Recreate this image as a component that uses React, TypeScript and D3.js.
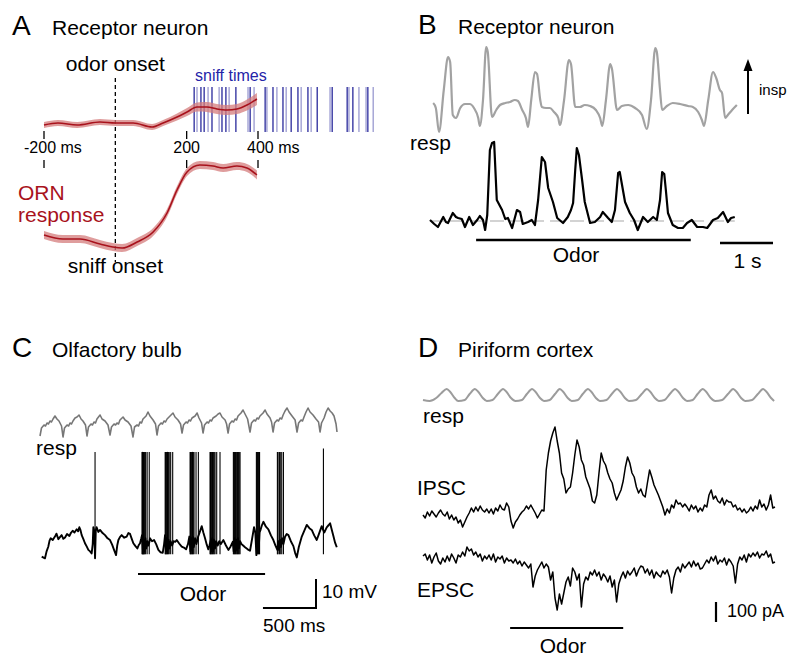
import * as d3 from "d3";

// ---------- panel A : ORN imaging (a.u.), time in ms ----------
const odorT = [-200, -161, -107, -43, 0, 50, 103, 134, 173, 201, 229, 257, 285, 313, 341, 369, 397];
const odorV = [0, 2, 0, 3, 2, 2, -2, 2, 8, 13, 18, 18, 16, 15, 16, 20, 26];
const odorSem = [3, 3, 3, 3, 3, 3, 3, 3, 3.5, 4, 4.5, 5, 5, 5, 5, 5.5, 6];
const sniffT = [-200, -147, -99, -43, -7, 19, 61, 106, 145, 173, 201, 237, 274, 302, 341, 369, 397];
const sniffV = [13, 9, 9, 4, 1, 0, 6, 16, 35, 58, 76, 83, 82, 80, 82, 80, 73];
const sniffSem = [4, 4, 4, 4, 4, 4, 4, 4, 4, 4, 4, 4, 4, 4, 4, 4, 4.5];
const sniffTimes = [221, 229, 240, 249, 260, 271, 291, 299, 310, 319, 338, 372, 378, 389, 420, 425, 442, 453, 470, 479, 493, 512, 521, 540, 549, 566, 602, 608, 650, 655, 666, 683, 703, 708, 723];
const sniffDark = [1, 0, 1, 1, 0, 1, 0, 1, 1, 0, 1, 0, 1, 0, 1, 0, 1, 0, 1, 0, 1, 1, 0, 1, 0, 1, 0, 1, 1, 0, 1, 0, 0, 1, 0];
const aTicks = [-200, 200, 400];

// ---------- panel B : resp + ORN response, time in s ----------
const bResp: [number, number][] = [
  [0.06, 2], [0.11, -3], [0.17, -27], [0.26, 15], [0.34, 48], [0.38, 43], [0.43, -10], [0.49, -13], [0.57, -3], [0.66, 1],
  [0.75, 1], [0.83, -3], [0.91, -13], [0.94, -21], [1.0, 5], [1.06, 58], [1.09, 53], [1.17, -12], [1.25, -5], [1.32, 0],
  [1.42, 2], [1.51, 3], [1.6, 5], [1.66, 4], [1.74, -5], [1.81, -13], [1.85, -22], [1.91, 5], [1.98, 33], [2.02, 31],
  [2.08, 5], [2.11, -2], [2.19, -3], [2.26, -3], [2.34, -7], [2.42, -13], [2.45, -20], [2.53, 5], [2.62, 45], [2.66, 41],
  [2.74, -2], [2.83, -2], [2.92, 0], [3.02, -1], [3.13, -5], [3.21, -13], [3.25, -21], [3.32, 5], [3.4, 41], [3.43, 37],
  [3.53, -5], [3.62, -1], [3.74, 0], [3.87, -3], [4.0, -10], [4.09, -24], [4.17, 5], [4.25, 57], [4.28, 53], [4.34, 15],
  [4.38, -5], [4.47, -1], [4.58, 2], [4.72, 1], [4.87, -1], [4.96, -2], [5.06, -7], [5.13, -15], [5.17, -21], [5.25, 5],
  [5.34, 33], [5.4, 27], [5.47, 15], [5.51, 12], [5.57, -13], [5.62, -10], [5.7, -5], [5.79, 0],
];
const bOrn: [number, number][] = [
  [0, 1], [0.08, -3], [0.15, -6], [0.25, 4], [0.3, -1], [0.34, -2], [0.43, 8], [0.49, 4], [0.53, 3], [0.6, 2],
  [0.66, -6], [0.74, 4], [0.81, -4], [0.89, 1], [0.94, 5], [1.0, 1], [1.04, -9], [1.08, 6], [1.13, 71], [1.17, 78],
  [1.21, 79], [1.26, 21], [1.36, 11], [1.42, 2], [1.47, 3], [1.55, -7], [1.64, 11], [1.7, 9], [1.75, -3], [1.85, -1],
  [1.92, 1], [1.98, -4], [2.04, 21], [2.11, 64], [2.17, 59], [2.23, 33], [2.32, 19], [2.4, 3], [2.51, -2], [2.6, 4],
  [2.66, 11], [2.7, 18], [2.74, 51], [2.77, 73], [2.81, 66], [2.87, 41], [2.92, 19], [3.02, -2], [3.11, -1], [3.21, 4],
  [3.26, 9], [3.36, 3], [3.43, -1], [3.49, 11], [3.55, 48], [3.58, 49], [3.68, 19], [3.77, 8], [3.85, 1], [3.92, -9],
  [4.02, 4], [4.11, -1], [4.21, 4], [4.28, 1], [4.34, 21], [4.38, 49], [4.42, 47], [4.45, 31], [4.49, 8], [4.58, -4],
  [4.68, -7], [4.77, -7], [4.85, -2], [4.94, 1], [5.04, -6], [5.15, -6], [5.23, -7], [5.34, 1], [5.43, 3], [5.53, 9],
  [5.62, -1], [5.68, 3], [5.75, 4],
];
const bOdor = [0.87, 4.92];

// ---------- panel C : mitral cell Vm (mV re rest), time in ms ----------
const cResp: [number, number][] = [
  [0, 4], [14, 12], [38, 15], [52, 14], [66, 17], [80, 16], [94, 19], [108, 18], [123, 21], [141, 24], [160, 21], [179, 19], [203, 14], [217, 3],
  [231, 12], [255, 15], [270, 14], [283, 17], [297, 16], [311, 19], [330, 22], [349, 23], [368, 25], [387, 21], [405, 19], [429, 15], [443, 4],
  [457, 13], [481, 16], [495, 15], [509, 18], [523, 17], [537, 21], [566, 25], [585, 21], [613, 19], [641, 15], [660, 5],
  [674, 13], [698, 16], [712, 15], [726, 17], [740, 16], [754, 20], [783, 23], [802, 20], [830, 18], [858, 14], [877, 3],
  [891, 13], [915, 15], [929, 14], [943, 18], [957, 17], [971, 21], [1000, 24], [1018, 28], [1037, 24], [1066, 20], [1089, 16], [1103, 5],
  [1117, 14], [1141, 17], [1155, 16], [1169, 19], [1183, 18], [1198, 21], [1226, 24], [1254, 27], [1273, 23], [1301, 20], [1325, 16], [1339, 7],
  [1353, 15], [1377, 18], [1391, 17], [1405, 20], [1419, 19], [1433, 22], [1462, 24], [1481, 27], [1499, 22], [1523, 17], [1537, 7],
  [1551, 15], [1575, 18], [1589, 17], [1603, 20], [1617, 19], [1631, 22], [1660, 24], [1679, 26], [1697, 27], [1716, 23], [1745, 20], [1759, 16], [1773, 7],
  [1787, 16], [1810, 19], [1825, 18], [1839, 21], [1853, 20], [1867, 24], [1895, 27], [1914, 30], [1933, 26], [1957, 21], [1980, 8],
  [1994, 17], [2018, 20], [2032, 19], [2046, 22], [2060, 21], [2074, 24], [2103, 27], [2122, 30], [2140, 26], [2169, 22], [2183, 18], [2197, 8],
  [2211, 17], [2235, 20], [2249, 19], [2263, 22], [2278, 21], [2292, 25], [2310, 29], [2329, 32], [2348, 28], [2376, 24], [2405, 20], [2423, 8],
  [2438, 17], [2461, 20], [2475, 19], [2489, 23], [2508, 28], [2527, 32], [2546, 28], [2574, 25], [2602, 21], [2626, 18], [2640, 8],
  [2654, 17], [2678, 22], [2697, 28], [2716, 32], [2735, 29], [2754, 27], [2772, 24], [2791, 16], [2800, 8],
];
const cVm: [number, number][] = [
  [16, -3.3], [47, -3.9], [62, -1.5], [78, 0.1], [90, 2.2], [101, 3.0], [120, 2.4], [141, 3.6], [155, 4.6], [173, 2.7],
  [190, 3.5], [204, 4.1], [220, 2.8], [236, 3.3], [255, 4.5], [277, 3.8], [292, 4.9], [308, 5.6], [325, 5.0], [346, 6.1],
  [360, 5.4], [371, 6.8], [382, 5.8], [393, 4.1], [410, 2.6], [424, 1.3], [440, 0.2], [456, -1.0], [472, -1.5], [487, -2.2],
  [497, 1.0], [503, 6.8], [512, 5.5], [519, -3.9], [526, 5.8], [534, 6.8], [550, 5.2], [566, 5.9], [590, 4.8], [613, 4.1],
  [637, 3.0], [660, 2.4], [680, 0.8], [698, -1.0], [717, -2.8], [728, 0.5], [739, 2.4], [755, 3.5], [770, 4.1], [794, 3.2],
  [817, 3.6], [833, 4.8], [849, 4.5], [865, 2.8], [880, 1.3], [900, 0.3], [918, -0.5], [930, 0.6], [943, 1.3], [955, 3.0],
  [962, 4.1], [970, -1.0], [978, 2.5], [986, -1.5], [994, 3.0], [1002, -0.5], [1012, 2.0], [1020, 0.5], [1030, 1.5], [1037, 3.0],
  [1056, 2.0], [1075, 2.4], [1095, 1.0], [1116, -1.0], [1135, -1.8], [1157, -2.0], [1170, 1.0], [1179, 4.1], [1188, -1.5], [1196, 3.0],
  [1204, -1.0], [1212, 2.5], [1222, -0.5], [1232, 2.0], [1245, 0.5], [1260, 2.0], [1275, 1.8], [1289, 2.4], [1312, 1.2], [1336, 0.1],
  [1356, -0.2], [1377, -0.8], [1395, 1.0], [1408, 3.6], [1418, -1.5], [1426, 3.0], [1434, -1.0], [1442, 3.5], [1450, 0.0], [1462, 3.0],
  [1475, 1.0], [1490, 3.5], [1505, 5.0], [1525, 7.2], [1540, 5.0], [1556, 3.0], [1572, 0.8], [1587, -0.8], [1598, 0.5], [1610, 2.4],
  [1616, -1.5], [1624, 3.0], [1632, -1.5], [1640, 2.5], [1650, -0.5], [1660, 2.0], [1675, 0.5], [1690, 2.0], [1705, 1.0], [1729, 2.4],
  [1752, 0.6], [1776, -1.0], [1797, 0.2], [1817, 1.8], [1826, -1.5], [1834, 3.0], [1842, -1.5], [1850, 2.5], [1858, -1.0], [1866, 3.0],
  [1876, -0.5], [1886, 2.0], [1900, 1.0], [1915, 0.5], [1933, -0.1], [1958, -0.8], [1980, -1.3], [1998, 2.5], [2018, 6.8], [2030, 5.0],
  [2040, -2.8], [2050, 4.0], [2060, -2.0], [2070, 5.0], [2080, 6.0], [2092, 7.5], [2106, 8.7], [2130, 7.0], [2153, 6.1], [2177, 4.0],
  [2200, 2.4], [2220, 0.5], [2238, -1.0], [2246, 2.0], [2254, -1.0], [2262, 2.5], [2272, 0.0], [2282, 3.0], [2295, 1.0], [2310, 3.5],
  [2326, 4.5], [2342, 4.1], [2365, 2.0], [2389, 0.3], [2405, -2.0], [2421, -3.6], [2440, 0.0], [2468, 3.6], [2490, 5.5], [2515, 7.6],
  [2540, 6.5], [2562, 5.9], [2585, 4.0], [2609, 2.4], [2630, 4.5], [2656, 7.2], [2668, 6.0], [2680, 5.0], [2703, 6.8], [2720, 7.5],
  [2735, 8.2], [2750, 6.0], [2766, 3.8], [2782, 1.5], [2798, -0.1],
];
const cSpikes = [
  519,
  962, 966, 970, 974, 978, 982, 988, 996, 1010, 1030,
  1180, 1185, 1190, 1196, 1202, 1210, 1218, 1232, 1251,
  1415, 1420, 1426, 1432, 1438, 1445, 1452, 1471, 1493,
  1603, 1608, 1614, 1620, 1627, 1634, 1642, 1650, 1666, 1697,
  1823, 1829, 1835, 1842, 1849, 1856, 1863, 1870, 1878, 1886,
  2040, 2046, 2052, 2058, 2064, 2070,
  2238, 2244, 2257, 2265, 2279, 2295,
  2672,
];
const cOdor = [924, 2122];

// ---------- panel D : piriform currents (pA), sampled every 50 ms ----------
const dResp: [number, number][] = [
  [0.0, 1], [0.15, 0], [0.3, 3], [0.42, 8], [0.54, 12], [0.62, 9], [0.72, 3], [0.8, 0], [0.95, 1], [1.06, 7], [1.18, 12],
  [1.26, 9], [1.36, 3], [1.45, 0], [1.58, 1], [1.7, 7], [1.82, 12], [1.9, 9], [2.0, 3], [2.1, 0], [2.25, 1], [2.36, 7],
  [2.48, 12], [2.56, 9], [2.66, 3], [2.75, 0], [2.88, 1], [3.0, 7], [3.11, 12], [3.19, 9], [3.29, 3], [3.38, 0], [3.52, 1],
  [3.63, 7], [3.75, 12], [3.83, 9], [3.93, 3], [4.02, 0], [4.17, 1], [4.29, 7], [4.41, 12], [4.49, 9], [4.59, 3], [4.68, 0],
  [4.84, 1], [4.97, 7], [5.09, 12], [5.17, 9], [5.27, 3], [5.36, 0], [5.49, 1], [5.61, 7], [5.73, 12], [5.81, 9], [5.91, 3],
  [6.0, 0], [6.13, 1], [6.24, 7], [6.36, 12], [6.44, 9], [6.54, 3], [6.64, 0], [6.8, 1], [6.93, 7], [7.05, 12], [7.13, 9],
  [7.23, 3], [7.32, 0], [7.48, 1], [7.61, 7], [7.73, 12], [7.81, 9], [7.91, 3], [7.98, 0],
];
const ipsc = [
  -10, -25, 5, -15, 10, -5, -20, 0, 15, -5,
  -15, 5, -30, -10, -35, -20, -50, -35, -70, -45,
  -20, 0, 25, 5, 30, 10, 35, 15, 5, 20,
  0, 20, -5, 25, 10, 40, 20, 15, 50, 30,
  -40, -75, -45, -30, -10, 5, 15, 35, 20, 40,
  20, 0, -25, -5, 15, 10, 215, 300, 360, 400,
  430, 360, 300, 200, 170, 100, 120, 130, 200, 290,
  365, 330, 265, 240, 180, 150, 120, 60, 50, 90,
  200, 300, 260, 240, 200, 170, 150, 100, 65, 90,
  115, 160, 230, 280, 250, 200, 180, 130, 100, 120,
  90, 80, 150, 215, 180, 140, 115, 90, 60, 30,
  -10, 20, 0, 40, 25, 65, 45, 50, 30, 45,
  30, 10, 40, 20, 35, 5, 25, 10, 40, 30,
  90, 115, 70, 85, 60, 50, 75, 40, 65, 55,
  55, 30, 40, 15, 25, 5, 20, 0, 10, 30,
  10, 35, 20, 65, 30, 45, 15, 40, 90, 25,
  30,
];
const epsc = [
  10, 20, -10, 15, -25, 5, 25, -15, -30, 0,
  -20, 10, -15, 20, 0, -25, 15, 5, 30, 10,
  55, 35, 45, 15, 30, 5, 20, -15, 10, -5,
  15, -10, 20, -20, 5, -5, 10, -25, 0, -15,
  -10, -25, -5, -30, -15, -40, -20, -35, -50, -30,
  -145, -90, -60, -40, -20, -50, -30, -45, -110, -70,
  -200, -260, -180, -230, -175, -120, -95, -140, -50, -70,
  -110, -80, -245, -130, -95, -110, -70, -85, -60, -90,
  -70, -110, -80, -95, -120, -90, -145, -110, -220, -130,
  -95, -70, -100, -65, -85, -70, -50, -90, -60, -40,
  -45, -75, -55, -85, -60, -100, -70, -85, -95, -65,
  -80, -60, -95, -175, -100, -60, -45, -70, -30, -50,
  -35, -20, -45, -15, -40, -25, -55, -50, -30, -10,
  -25, 5, -15, 10, -30, -10, -20, 0, -35, -5,
  -20, -40, -125, -30, 5, -10, 15, -20, 20, 5,
  25, 10, 30, 0, 20, 15, 35, 5, 20, -25,
  -20,
];
const dStep = 0.05;
const dOdor = [1.98, 4.55];

const font = "'Liberation Sans', Arial, Helvetica, sans-serif";
const red = "#a8121c";
const blue = "#1c1c96";

const App = () => {
  // scales
  const xA = d3.scaleLinear().domain([-200, 400]).range([44, 258]);
  const yA1 = d3.scaleLinear().domain([0, 30]).range([125, 95]);
  const yA2 = d3.scaleLinear().domain([0, 90]).range([248, 158]);

  const xB = d3.scaleLinear().domain([0, 5.8]).range([430, 737.4]);
  const yBr = d3.scaleLinear().domain([-30, 60]).range([135, 45]);
  const yBo = d3.scaleLinear().domain([-10, 80]).range([231, 141]);

  const xC = d3.scaleLinear().domain([0, 2800]).range([40, 337]);
  const yCr = d3.scaleLinear().domain([0, 35]).range([440, 405]);
  const yCv = d3.scaleLinear().domain([0, 30]).range([547, 460]);

  const xD = d3.scaleLinear().domain([0, 8]).range([423, 775]);
  const yDr = d3.scaleLinear().domain([0, 12]).range([401, 389]);
  const yDi = d3.scaleLinear().domain([0, 400]).range([513, 433]);
  const yDe = d3.scaleLinear().domain([0, -300]).range([558, 618]);

  // panel A shapes
  const mk = (T: number[], V: number[], S: number[]) => T.map((t, i) => ({ t, v: V[i], s: S[i] }));
  const aUp = mk(odorT, odorV, odorSem);
  const aLo = mk(sniffT, sniffV, sniffSem);
  const bandUp = d3.area<any>().curve(d3.curveMonotoneX).x(d => xA(d.t)).y0(d => yA1(d.v - d.s)).y1(d => yA1(d.v + d.s));
  const lineUp = d3.line<any>().curve(d3.curveMonotoneX).x(d => xA(d.t)).y(d => yA1(d.v));
  const bandLo = d3.area<any>().curve(d3.curveMonotoneX).x(d => xA(d.t)).y0(d => yA2(d.v - d.s)).y1(d => yA2(d.v + d.s));
  const lineLo = d3.line<any>().curve(d3.curveMonotoneX).x(d => xA(d.t)).y(d => yA2(d.v));

  const lineB1 = d3.line<[number, number]>().curve(d3.curveMonotoneX).x(d => xB(d[0])).y(d => yBr(d[1]));
  const lineB2 = d3.line<[number, number]>().x(d => xB(d[0])).y(d => yBo(d[1]));
  const lineC1 = d3.line<[number, number]>().x(d => xC(d[0])).y(d => yCr(d[1]));
  const lineC2 = d3.line<[number, number]>().x(d => xC(d[0])).y(d => yCv(d[1]));
  const lineD1 = d3.line<[number, number]>().curve(d3.curveMonotoneX).x(d => xD(d[0])).y(d => yDr(d[1]));
  const lineDi = d3.line<number>().x((d, i) => xD(i * dStep)).y(d => yDi(d));
  const lineDe = d3.line<number>().x((d, i) => xD(i * dStep)).y(d => yDe(d));

  const t = (x: number, y: number, s: string, size = 21, opts: any = {}) => (
    <text x={x} y={y} fontSize={size} {...opts}>{s}</text>
  );

  // scale bars
  const cBarX = 316, cBarY = 608;
  const cBarW = xC(500) - xC(0);
  const cBarH = yCv(0) - yCv(10);
  const dBarX = 716, dBarY = 622;
  const dBarH = yDe(-100) - yDe(0);
  const bBarX = 720, bBarY = 243;
  const bBarW = xB(1) - xB(0);

  return (
    <svg width={800} height={668} style={{ position: "absolute", left: 0, top: 0, background: "#fff" }} fontFamily={font}>
      <rect width={800} height={668} fill="#fff" />

      {/* ---------------- A ---------------- */}
      {t(12, 35, "A", 28)}
      {t(52, 35, "Receptor neuron")}
      {t(xA(0), 71, "odor onset", 21, { textAnchor: "middle" })}
      {t(xA(0), 273, "sniff onset", 21, { textAnchor: "middle" })}
      <line x1={xA(0)} x2={xA(0)} y1={78} y2={262} stroke="#000" strokeWidth={1.3} strokeDasharray="4 3" />
      {sniffTimes.map((s, i) => (
        <line key={i} x1={xA(s)} x2={xA(s)} y1={87} y2={132} stroke={blue} strokeWidth={1.3} strokeOpacity={sniffDark[i] ? 0.95 : 0.45} />
      ))}
      {t(195, 81, "sniff times", 16, { fill: "#2424a8" })}
      <path d={bandUp(aUp) || ""} fill="#d47c7c" fillOpacity={0.75} />
      <path d={lineUp(aUp) || ""} fill="none" stroke={red} strokeWidth={1.6} />
      <path d={bandLo(aLo) || ""} fill="#d47c7c" fillOpacity={0.75} />
      <path d={lineLo(aLo) || ""} fill="none" stroke={red} strokeWidth={1.6} />
      {aTicks.map(v => (
        <g key={v}>
          <line x1={xA(v)} x2={xA(v)} y1={131} y2={139} stroke="#000" strokeWidth={1.3} />
          <line x1={xA(v)} x2={xA(v)} y1={160} y2={168} stroke="#000" strokeWidth={1.3} />
        </g>
      ))}
      {t(xA(-200) - 20, 153, "-200 ms", 16)}
      {t(xA(200), 153, "200", 16, { textAnchor: "middle" })}
      {t(xA(400) - 11, 153, "400 ms", 16)}
      {t(18, 200, "ORN", 21, { fill: red })}
      {t(18, 222, "response", 21, { fill: red })}

      {/* ---------------- B ---------------- */}
      {t(418, 34, "B", 28)}
      {t(458, 34, "Receptor neuron")}
      <path d={lineB1(bResp) || ""} fill="none" stroke="#a2a2a2" strokeWidth={2.2} strokeLinejoin="round" />
      <line x1={748} x2={748} y1={114} y2={68} stroke="#000" strokeWidth={2} />
      <polygon points="748,59 743.5,71 752.5,71" fill="#000" />
      {t(759, 95, "insp", 15)}
      {t(410, 150, "resp", 21)}
      <line x1={xB(0)} x2={xB(5.75)} y1={yBo(0)} y2={yBo(0)} stroke="#a8a8a8" strokeWidth={1.2} strokeDasharray="14 6" />
      <path d={lineB2(bOrn) || ""} fill="none" stroke="#000" strokeWidth={2.2} strokeLinejoin="round" />
      <line x1={xB(bOdor[0])} x2={xB(bOdor[1])} y1={240} y2={240} stroke="#000" strokeWidth={2.5} />
      {t(576, 262, "Odor", 21, { textAnchor: "middle" })}
      <line x1={bBarX} x2={bBarX + bBarW} y1={bBarY} y2={bBarY} stroke="#000" strokeWidth={2.5} />
      {t(bBarX + bBarW / 2 + 1, 268, "1 s", 21, { textAnchor: "middle" })}

      {/* ---------------- C ---------------- */}
      {t(12, 357, "C", 28)}
      {t(52, 357, "Olfactory bulb")}
      <path d={lineC1(cResp) || ""} fill="none" stroke="#777" strokeWidth={1.6} strokeLinejoin="round" />
      {t(36, 455, "resp", 21)}
      <path d={lineC2(cVm) || ""} fill="none" stroke="#000" strokeWidth={1.9} strokeLinejoin="round" />
      {cSpikes.map((s, i) => (
        <line key={i} x1={xC(s)} x2={xC(s)} y1={yCv(-2.5)} y2={yCv(s > 2600 ? 34 : 32.8)} stroke="#000" strokeWidth={1.1} />
      ))}
      <line x1={xC(cOdor[0])} x2={xC(cOdor[1])} y1={574} y2={574} stroke="#000" strokeWidth={2.2} />
      {t(203, 601, "Odor", 21, { textAnchor: "middle" })}
      <path d={`M${cBarX - cBarW},${cBarY}H${cBarX}V${cBarY - cBarH}`} fill="none" stroke="#000" strokeWidth={2} />
      {t(322, 598, "10 mV", 19)}
      {t(263, 632, "500 ms", 19)}

      {/* ---------------- D ---------------- */}
      {t(418, 357, "D", 28)}
      {t(458, 357, "Piriform cortex")}
      <path d={lineD1(dResp) || ""} fill="none" stroke="#9c9c9c" strokeWidth={2} />
      {t(423, 423, "resp", 21)}
      {t(417, 495, "IPSC", 21)}
      <path d={lineDi(ipsc) || ""} fill="none" stroke="#000" strokeWidth={1.5} strokeLinejoin="round" />
      {t(417, 597, "EPSC", 21)}
      <path d={lineDe(epsc) || ""} fill="none" stroke="#000" strokeWidth={1.5} strokeLinejoin="round" />
      <line x1={dBarX} x2={dBarX} y1={dBarY} y2={dBarY - dBarH} stroke="#000" strokeWidth={2.2} />
      {t(727, 617, "100 pA", 18)}
      <line x1={xD(dOdor[0])} x2={xD(dOdor[1])} y1={628} y2={628} stroke="#000" strokeWidth={2.2} />
      {t(563, 653, "Odor", 21, { textAnchor: "middle" })}
    </svg>
  );
};

export default App;
